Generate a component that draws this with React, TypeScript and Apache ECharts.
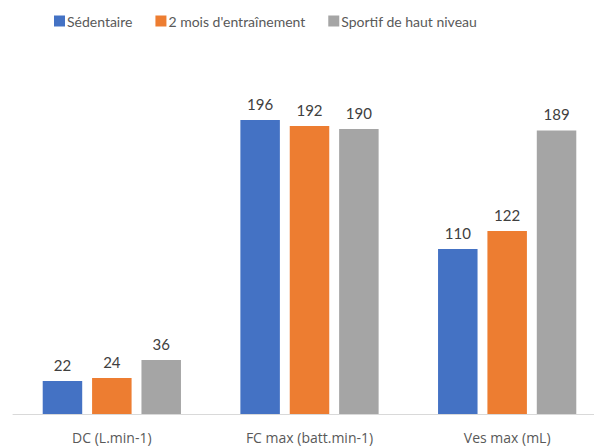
import React, { useEffect, useRef } from "react";
import * as echarts from "echarts";

const categories = ["DC (L.min-1)", "FC max (batt.min-1)", "Ves max (mL)"];
const seriesNames = ["Sédentaire", "2 mois d'entraînement", "Sportif de haut niveau"];
const sedentaire = [22, 196, 110];
const entrainement = [24, 192, 122];
const sportif = [36, 190, 189];
const colors = ["#4472C4", "#ED7D31", "#A5A5A5"];

export default function App() {
  const ref = useRef<HTMLDivElement>(null);
  useEffect(() => {
    if (!ref.current) return;
    const chart = echarts.init(ref.current, null, { renderer: "svg" });
    const font = "Lato, 'Open Sans', sans-serif";
    const data = [sedentaire, entrainement, sportif];
    chart.setOption({
      animation: false,
      color: colors,
      textStyle: { fontFamily: font },
      legend: {
        left: 49,
        top: 9,
        itemWidth: 11,
        itemHeight: 11,
        itemGap: 23,
        icon: "rect",
        textStyle: { fontSize: 14, color: "#595959", fontFamily: font, padding: [0, 0, 0, -3] },
        data: seriesNames,
      },
      grid: { left: 13, right: 0, top: 39, bottom: 33, containLabel: false },
      xAxis: {
        type: "category",
        data: categories,
        axisLine: { lineStyle: { color: "#D9D9D9", width: 1 } },
        axisTick: { show: false },
        axisLabel: { fontSize: 14, color: "#595959", margin: 16, fontFamily: "'Open Sans', sans-serif" },
      },
      yAxis: {
        type: "value",
        min: 0,
        max: 250,
        show: false,
        splitLine: { show: false },
      },
      series: seriesNames.map((name, i) => ({
        name,
        type: "bar",
        data: data[i],
        barWidth: 39.5,
        barGap: "25%",
        label: {
          show: true,
          position: "top",
          distance: 9,
          fontSize: 15,
          color: "#404040",
          fontFamily: font,
        },
      })),
    });
    return () => chart.dispose();
  }, []);
  return (
    <div style={{ position: "fixed", left: 0, top: 0, width: 594, height: 447, overflow: "hidden", background: "#fff" }}>
      <div ref={ref} style={{ width: 606, height: 447 }} />
    </div>
  );
}
